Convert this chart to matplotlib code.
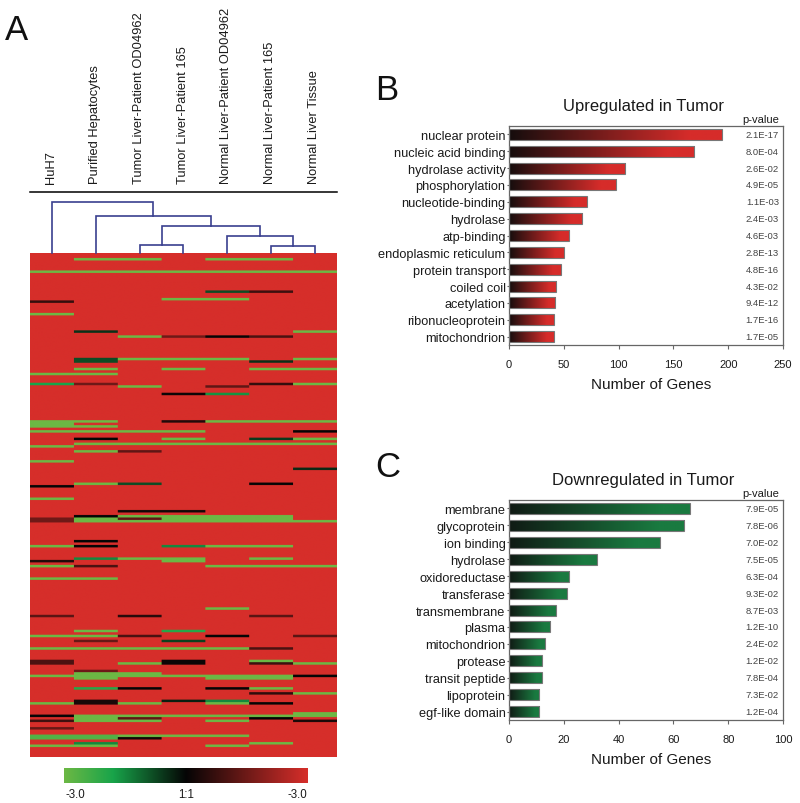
import numpy as np
import matplotlib
matplotlib.use("Agg")
import matplotlib.pyplot as plt
from matplotlib.colors import LinearSegmentedColormap

plt.rcParams["font.family"] = ["Liberation Sans", "DejaVu Sans"]

W, H = 800, 804
TEXT = "#1a1a1a"

samples = ["HuH7", "Purified Hepatocytes", "Tumor Liver-Patient OD04962", "Tumor Liver-Patient 165",
           "Normal Liver-Patient OD04962", "Normal Liver-Patient 165", "Normal Liver Tissue"]

# dendrogram merges: left node, right node, height (new nodes numbered from 7)
merges = [(2, 3, 8), (5, 6, 7), (4, 8, 17), (7, 9, 27), (1, 10, 37), (0, 11, 51)]

# heatmap is almost all +3, only the deviating cells are listed: row, columns, value
n_rows = 202
heat_cells = [
    (2, [1, 2, 4, 5], -3), (7, [0, 1, 2, 3, 4, 5, 6], -3), (15, [4], -0.8), (15, [5], 0.8),
    (18, [3, 4], -3), (19, [0], 0.7), (24, [0], -3), (31, [1], -0.5), (31, [6], -3),
    (33, [2], -3), (33, [3], 1.5), (33, [4], 0), (33, [5], 1), (42, [1], -0.8), (42, [2, 3, 4, 6], -3),
    (43, [1], -0.8), (43, [5], -0.5), (46, [1, 3, 5, 6], -3), (48, [0, 1], -3),
    (52, [0], -1.8), (52, [1], 1.5), (52, [5], 0.7), (52, [6], -3), (53, [2], -3), (53, [4], 1.3),
    (56, [3], 0.1), (56, [4], -1.6), (67, [0, 1, 4, 5, 6], -3), (67, [3], 0.4), (68, [0], -3),
    (69, [0, 1], -3), (71, [0, 1, 2, 3], -3), (71, [6], 0), (74, [1], 0), (74, [3, 6], -3),
    (74, [5], -0.6), (76, [1, 2, 3, 4, 5, 6], -3), (77, [0], -3), (79, [1], -3), (79, [2], 1.3),
    (83, [0], -3), (86, [6], -0.4), (92, [1], -3), (92, [2], -0.8), (92, [5], 0), (93, [0], 0),
    (98, [0], -3), (103, [2, 3], 0.2), (105, [1], 0), (105, [2, 3, 4, 5], -3),
    (106, [0], 1.5), (106, [1, 3, 4, 5], -3), (106, [2], 1.3), (107, [0], 1.5),
    (107, [1, 2, 3, 4, 5, 6], -3), (115, [1], 0), (117, [0, 4, 5], -3), (117, [1], 0), (117, [3], -1.5),
    (122, [1], -1.5), (122, [2, 3, 5], -3), (123, [0], 0.4), (123, [3], -3), (125, [0, 4, 5, 6], -3),
    (125, [1], 1.0), (130, [0, 1], -3), (142, [4], -3), (145, [0, 5], 1.2), (145, [2], 0.5),
    (151, [1], -3), (151, [3], -2), (153, [0, 1], -3), (153, [2], 1.0), (153, [4], 0), (153, [6], 1.2),
    (155, [1], 1.4), (155, [3], -0.7), (158, [0, 1, 2, 3, 4], -3), (158, [5], 1.0),
    (163, [0], 1.0), (163, [3], 0.1), (163, [5], -3), (164, [0], 1.0), (164, [3], 0.1), (164, [5], 0.8),
    (164, [2, 6], -3), (167, [1], 1.5), (168, [1, 2], -3), (169, [0, 1, 2, 3, 4, 5], -3), (169, [6], 0),
    (170, [1, 4, 5], -3), (174, [1], -2), (174, [2, 4], 0), (174, [5], -3), (176, [5], 0.6), (176, [6], -3),
    (179, [1], 0.3), (179, [3], -0.3), (179, [4], -1.5), (180, [1], 0.3), (180, [0, 2, 4], -3), (180, [5], 0),
    (184, [6], -3), (185, [0], 0), (185, [1, 2, 3, 4, 5, 6], -3), (186, [1], -3), (186, [2], 1.3), (186, [5], 0),
    (187, [0], 0.8), (187, [1, 2, 4], -3), (187, [6], 0.3), (190, [0], 1.4), (193, [0, 1], -2.6),
    (193, [2, 3, 4], -3), (194, [0, 1], -2.6), (194, [2], 0.2), (196, [1], -1.5), (196, [5], -3),
    (197, [0, 1, 4], -3),
]

up_terms = ["nuclear protein", "nucleic acid binding", "hydrolase activity", "phosphorylation",
            "nucleotide-binding", "hydrolase", "atp-binding", "endoplasmic reticulum", "protein transport",
            "coiled coil", "acetylation", "ribonucleoprotein", "mitochondrion"]
up_counts = [194, 169, 106, 98, 71, 67, 55, 50, 47, 43, 42, 41, 41]
up_pvalues = ["2.1E-17", "8.0E-04", "2.6E-02", "4.9E-05", "1.1E-03", "2.4E-03", "4.6E-03",
              "2.8E-13", "4.8E-16", "4.3E-02", "9.4E-12", "1.7E-16", "1.7E-05"]
up_ticks = [0, 50, 100, 150, 200, 250]

down_terms = ["membrane", "glycoprotein", "ion binding", "hydrolase", "oxidoreductase", "transferase",
              "transmembrane", "plasma", "mitochondrion", "protease", "transit peptide", "lipoprotein",
              "egf-like domain"]
down_counts = [66, 64, 55, 32, 22, 21, 17, 15, 13, 12, 12, 11, 11]
down_pvalues = ["7.9E-05", "7.8E-06", "7.0E-02", "7.5E-05", "6.3E-04", "9.3E-02", "8.7E-03",
                "1.2E-10", "2.4E-02", "1.2E-02", "7.8E-04", "7.3E-02", "1.2E-04"]
down_ticks = [0, 20, 40, 60, 80, 100]

heat_cmap = LinearSegmentedColormap.from_list(
    "heat", [(0, "#6cb844"), (0.2, "#18a44a"), (0.5, "#050505"), (1, "#d62e2a")])
red_cmap = LinearSegmentedColormap.from_list("red", [(0, "#150d0d"), (0.85, "#d62c2a"), (1, "#d62c2a")])
green_cmap = LinearSegmentedColormap.from_list("green", [(0, "#101a14"), (0.85, "#1a7a40"), (1, "#1a7a40")])


def px_axes(fig, left, top, right, bottom):
    """ Axes placed by pixel box, y counted from the top of the image """
    return fig.add_axes([left / W, 1 - bottom / H, (right - left) / W, (bottom - top) / H])


def draw_dendrogram(ax):
    xs = {i: float(i) for i in range(len(samples))}
    ys = {i: 0.0 for i in range(len(samples))}
    for i, (a, b, height) in enumerate(merges):
        ax.plot([xs[a], xs[a], xs[b], xs[b]], [ys[a], height, height, ys[b]],
                color="#3a3f8f", lw=1.2, solid_joinstyle="miter", clip_on=False)
        node = len(samples) + i
        xs[node] = (xs[a] + xs[b]) / 2
        ys[node] = height


def bar_panel(ax, terms, counts, pvalues, ticks, cmap, title):
    pos = np.arange(len(terms))
    bars = ax.barh(pos, counts, height=0.65, facecolor="none", edgecolor="#777777", linewidth=0.8, zorder=3)
    grad = np.linspace(0, 1, 256).reshape(1, -1)
    for bar in bars:
        im = ax.imshow(grad, extent=[0, bar.get_width(), bar.get_y() + bar.get_height(), bar.get_y()],
                       cmap=cmap, aspect="auto", zorder=2)
        im.set_clip_path(bar)
    ax.set_xlim(ticks[0], ticks[-1])
    ax.set_ylim(len(terms) - 0.5, -0.5)
    ax.set_xticks(ticks)
    ax.set_yticks(pos)
    ax.set_yticklabels(terms, fontsize=9.2, color=TEXT)
    ax.tick_params(axis="x", length=3, width=0.8, color="#666666", labelsize=8, labelcolor=TEXT, pad=7)
    ax.tick_params(axis="y", length=1.5, width=0.8, color="#666666", pad=1)
    for spine in ax.spines.values():
        spine.set_color("#666666")
        spine.set_linewidth(0.9)
    ax.set_xlabel("Number of Genes", fontsize=11, color=TEXT)
    ax.xaxis.set_label_coords(0.517, -0.145)
    ax.text(0.49, 1.095, title, transform=ax.transAxes, ha="center", va="center", fontsize=12, color=TEXT)
    ax.text(0.985, 1.033, "p-value", transform=ax.transAxes, ha="right", va="center", fontsize=8, color=TEXT)
    trans = ax.get_yaxis_transform()
    for y, p in zip(pos, pvalues):
        ax.text(0.985, y, p, transform=trans, ha="right", va="center", fontsize=6.8, color="#444444")


fig = plt.figure(figsize=(W / 100, H / 100), dpi=100)

# panel A: heatmap, cells repeated so the resampling only softens the row edges
matrix = np.full((n_rows, len(samples)), 3.0)
for row, cols, value in heat_cells:
    matrix[row, cols] = value
ax_heat = px_axes(fig, 30, 254.4, 337, 758.4)
ax_heat.imshow(np.repeat(np.repeat(matrix, 44, axis=1), 4, axis=0), cmap=heat_cmap, vmin=-3, vmax=3,
               aspect="auto", interpolation="hanning", interpolation_stage="rgba")
ax_heat.axis("off")

ax_tree = px_axes(fig, 30, 203, 337, 254)
ax_tree.set_xlim(-0.5, len(samples) - 0.5)
ax_tree.set_ylim(0, 51)
ax_tree.axis("off")
draw_dendrogram(ax_tree)

for i, name in enumerate(samples):
    ax_tree.text(i - 0.02, 1.37, name, transform=ax_tree.get_xaxis_transform(), rotation=90,
                 ha="center", va="bottom", fontsize=9.25, color=TEXT)
ax_tree.plot([0, 1], [1.2, 1.2], transform=ax_tree.transAxes, color="black", lw=1.1, clip_on=False)

ax_scale = px_axes(fig, 64, 769, 308, 784)
ax_scale.imshow(np.linspace(-3, 3, 256).reshape(1, -1), cmap=heat_cmap, aspect="auto", extent=[-3, 3, 0, 1])
ax_scale.set_yticks([])
ax_scale.set_xticks([-2.73, 0, 2.73])
ax_scale.set_xticklabels(["-3.0", "1:1", "-3.0"], fontsize=8.3, color=TEXT)
ax_scale.tick_params(axis="x", length=0, pad=3.5)
for spine in ax_scale.spines.values():
    spine.set_visible(False)

# panels B and C
ax_up = px_axes(fig, 509, 127, 783, 346)
bar_panel(ax_up, up_terms, up_counts, up_pvalues, up_ticks, red_cmap, "Upregulated in Tumor")

ax_down = px_axes(fig, 509, 501, 783, 721)
bar_panel(ax_down, down_terms, down_counts, down_pvalues, down_ticks, green_cmap, "Downregulated in Tumor")

for letter, x, y in [("A", 5, 31), ("B", 375, 91), ("C", 375, 468)]:
    fig.text(x / W, 1 - y / H, letter, fontsize=25, ha="left", va="center", color="#111111")

fig.savefig("out.png", dpi=100)
plt.close(fig)
